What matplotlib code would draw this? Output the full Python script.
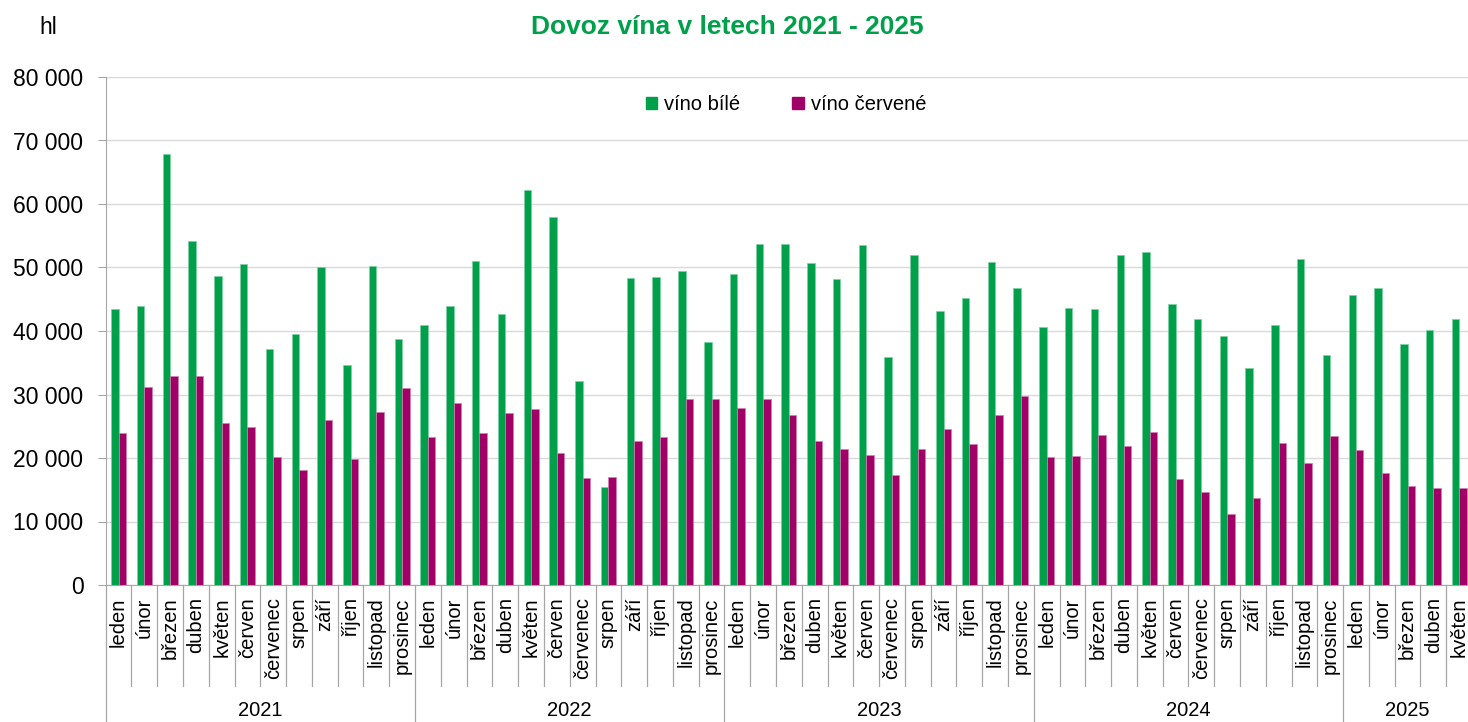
import matplotlib
matplotlib.use("Agg")
import matplotlib.pyplot as plt
from matplotlib.patches import Patch
from matplotlib.ticker import FuncFormatter
import numpy as np

plt.rcParams['font.family'] = ['Liberation Sans', 'DejaVu Sans']

# --- data (hl) ---
months = ["leden", "únor", "březen", "duben", "květen", "červen",
          "červenec", "srpen", "září", "říjen", "listopad", "prosinec"]
years = ["2021", "2022", "2023", "2024", "2025"]
months_per_year = [12, 12, 12, 12, 5]

vino_bile = [
    43460, 43890, 67870, 54120, 48710, 50500, 37210, 39470, 50080, 34700, 50290, 38790,
    41000, 43940, 51020, 42680, 62200, 57950, 32070, 15430, 48400, 48500, 49450, 38210,
    48920, 53650, 53650, 50710, 48190, 53490, 35910, 51970, 43150, 45200, 50870, 46770,
    40630, 43620, 43460, 51970, 52390, 44250, 41840, 39160, 34170, 41000, 51290, 36270,
    45620, 46720, 37950, 40160, 41840,
]
vino_cervene = [
    23940, 31230, 32910, 32910, 25460, 24930, 20160, 18160, 25930, 19790, 27300, 31020,
    23360, 28660, 23940, 27030, 27720, 20730, 16800, 16950, 22680, 23310, 29240, 29270,
    27930, 29290, 26720, 22680, 21420, 20520, 17270, 21420, 24510, 22200, 26720, 29760,
    20160, 20310, 23570, 21940, 24040, 16690, 14650, 11180, 13700, 22420, 19260, 23520,
    21210, 17590, 15640, 15220, 15220,
]

labels = []
for n in months_per_year:
    labels += months[:n]

green = "#00A04B"
purple = "#A10066"
n = len(labels)
c = np.arange(n) + 0.5
w = 0.29

fig = plt.figure(figsize=(14.68, 7.22), dpi=100)
ax = fig.add_axes([105.7 / 1468, 137 / 722, (1472 - 105.7) / 1468, 508 / 722])

ax.bar(c - w, vino_bile, width=w, align="edge", color=green,
       edgecolor="#80D0A5", linewidth=0.5, zorder=3, label="víno bílé")
ax.bar(c, vino_cervene, width=w, align="edge", color=purple,
       edgecolor="#D080B2", linewidth=0.5, zorder=3, label="víno červené")

ax.set_xlim(0, n)
ax.set_ylim(0, 80000)
ax.set_yticks(np.arange(0, 80001, 10000))
ax.yaxis.set_major_formatter(FuncFormatter(lambda v, p: f"{int(v):,}".replace(",", " ")))
ax.tick_params(axis="y", labelsize=16.5, length=6, width=0.8, color="#A6A6A6", pad=10)
ax.set_xticks([])
ax.grid(axis="y", color="#D9D9D9", linewidth=1.0, zorder=0)
for s in ["top", "right"]:
    ax.spines[s].set_visible(False)
ax.spines["left"].set_color("#A6A6A6")
ax.spines["bottom"].set_color("#A6A6A6")

# multi-level category axis
trans = ax.get_xaxis_transform()
year_edges = np.concatenate([[0], np.cumsum(months_per_year)])
for b in range(n + 1):
    y_end = -0.3 if b in year_edges else -0.199
    ax.plot([b, b], [0, y_end], transform=trans, color="#A6A6A6",
            linewidth=0.9, clip_on=False)
for i, lab in enumerate(labels):
    ax.text(c[i], -0.024, lab, transform=trans, rotation=90, ha="center",
            va="top", fontsize=14.5)
for k, yr in enumerate(years):
    mid = (year_edges[k] + year_edges[k + 1]) / 2
    ax.text(mid, -0.248, yr, transform=trans, ha="center", va="center",
            fontsize=14.5)

fig.text(727 / 1468, 1 - 27 / 722, "Dovoz vína v letech 2021 - 2025",
         ha="center", va="center", fontsize=19, fontweight="bold", color=green)
fig.text(48 / 1468, 1 - 27 / 722, "hl", ha="center", va="center", fontsize=16.5)

handles = [Patch(color=green), Patch(color=purple)]
fig.legend(handles, ["víno bílé", "víno červené"], loc="center",
           bbox_to_anchor=(786 / 1468, 1 - 105 / 722), ncol=2, frameon=False,
           fontsize=14.5, handlelength=0.55, handleheight=0.55,
           handletextpad=0.35, columnspacing=2.6)

fig.savefig("out.png", dpi=100)
